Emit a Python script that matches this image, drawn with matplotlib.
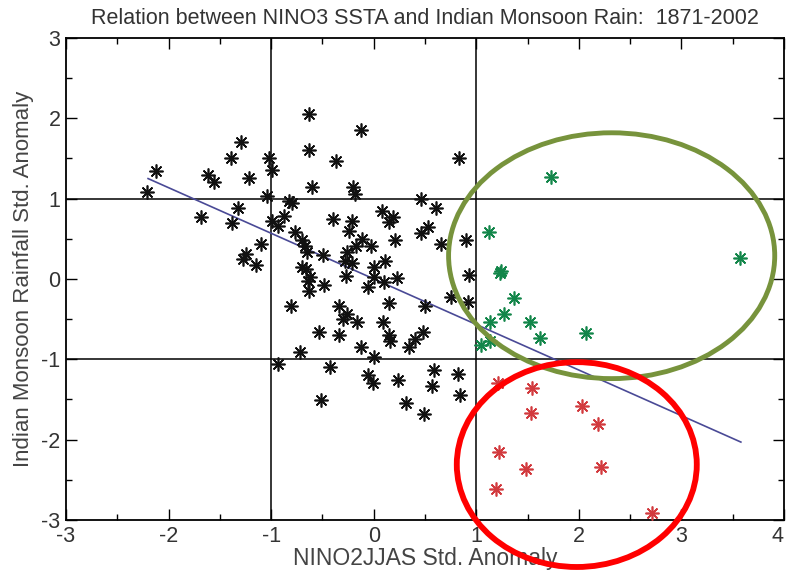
import matplotlib
matplotlib.use("Agg")
import matplotlib.pyplot as plt
from matplotlib.patches import Ellipse
from matplotlib.ticker import MultipleLocator

plt.rcParams['font.family'] = ['Liberation Sans', 'DejaVu Sans']
plt.rcParams['axes.unicode_minus'] = False

# standardized anomalies, one point per year
black_x = [-2.21, -2.12, -1.68, -1.62, -1.56, -1.39, -1.38, -1.32, -1.29, -1.27,
           -1.25, -1.22, -1.15, -1.10, -1.04, -1.02, -0.99, -0.99, -0.93, -0.87,
           -0.83, -0.80, -0.77, -0.70, -0.67, -0.65, -0.70, -0.66, -0.62, -0.64,
           -0.63, -0.63, -0.63, -0.60, -0.49, -0.48, -0.40, -0.37, -0.28, -0.27,
           -0.26, -0.24, -0.21, -0.20, -0.18, -0.17, -0.12, -0.11, -0.06, -0.03,
           0.00, 0.00, 0.08, 0.10, 0.11, 0.15, 0.19, 0.21, 0.23, 0.46,
           0.46, 0.53, 0.61, 0.66, 0.83, 0.90, 0.93, 0.15, 0.50, 0.75,
           0.92, -0.81, -0.34, -0.30, -0.26, -0.16, 0.09, -0.53, -0.34, 0.15,
           0.16, 0.48, 0.40, 0.34, -0.12, 0.00, -0.72, -0.93, -0.43, -0.06,
           -0.01, 0.24, 0.59, 0.82, 0.57, 0.84, 0.31, 0.49, -0.51, -0.21]
black_y = [1.08, 1.35, 0.77, 1.30, 1.21, 1.50, 0.70, 0.88, 1.71, 0.25,
           0.31, 1.26, 0.17, 0.44, 1.03, 1.51, 1.36, 0.72, 0.66, 0.79,
           0.97, 0.95, 0.58, 0.48, 0.41, 0.33, 0.15, 0.12, 0.02, -0.03,
           -0.15, 2.05, 1.60, 1.14, 0.30, -0.08, 0.75, 1.47, 0.22, 0.04,
           0.33, 0.60, 0.72, 1.15, 1.06, 0.41, 1.85, 0.50, -0.10, 0.41,
           0.15, 0.02, 0.85, -0.04, 0.23, 0.71, 0.77, 0.48, 0.01, 1.00,
           0.57, 0.65, 0.88, 0.43, 1.51, 0.48, 0.05, -0.30, -0.33, -0.22,
           -0.29, -0.34, -0.34, -0.50, -0.44, -0.53, -0.54, -0.66, -0.70, -0.70,
           -0.77, -0.66, -0.75, -0.85, -0.85, -0.97, -0.91, -1.06, -1.09, -1.20,
           -1.30, -1.26, -1.13, -1.18, -1.33, -1.44, -1.54, -1.68, -1.51, 0.20]

# warm years with near-normal rain
green_x = [1.73, 1.12, 1.24, 1.23, 3.57, 1.37, 1.27, 1.13, 1.52, 1.62, 2.07, 1.13, 1.05]
green_y = [1.27, 0.59, 0.10, 0.08, 0.26, -0.24, -0.44, -0.54, -0.53, -0.73, -0.67, -0.77, -0.82]

# warm years with drought
red_x = [1.21, 1.54, 1.53, 2.03, 2.19, 1.22, 1.48, 2.22, 1.19, 2.71]
red_y = [-1.30, -1.36, -1.67, -1.58, -1.81, -2.15, -2.36, -2.34, -2.62, -2.91]

# least squares line end points
fit_x = [-2.20, 3.58]
fit_y = [1.25, -2.03]

fig = plt.figure(figsize=(7.86, 5.73), dpi=100)
ax = fig.add_axes([0.0840, 0.0925, 0.9134, 0.8412])

ax.set_xlim(-3, 4)
ax.set_ylim(-3, 3)

for v in (-1, 1):
    ax.axvline(v, color='black', lw=1.1, zorder=1)
    ax.axhline(v, color='black', lw=1.1, zorder=1)

ax.plot(fit_x, fit_y, color='#4a4a96', lw=1.2, zorder=2)

star = (8, 2, 0)
ax.plot(black_x, black_y, linestyle='none', marker=star, ms=10, mew=1.2,
        color='#111111', zorder=3)
ax.plot(green_x, green_y, linestyle='none', marker=star, ms=10, mew=1.2,
        color='#13864a', zorder=3)
ax.plot(red_x, red_y, linestyle='none', marker=star, ms=10, mew=1.2,
        color='#d23a3e', zorder=3)

ax.add_patch(Ellipse((2.32, 0.29), 3.18, 3.06, fill=False, ec='#77933c',
                     lw=3.5, zorder=4, clip_on=False))
ax.add_patch(Ellipse((1.98, -2.31), 2.34, 2.55, fill=False, ec='#ff0000',
                     lw=4.2, zorder=4, clip_on=False))

ax.xaxis.set_major_locator(MultipleLocator(1))
ax.xaxis.set_minor_locator(MultipleLocator(0.5))
ax.yaxis.set_major_locator(MultipleLocator(1))
ax.yaxis.set_minor_locator(MultipleLocator(0.5))
ax.tick_params(which='both', direction='in', top=True, right=True,
               labelsize=15.5, labelcolor='#333333', width=1.0)
ax.tick_params(which='major', length=8, pad=4)
ax.tick_params(which='minor', length=4)
for s in ax.spines.values():
    s.set_linewidth(1.3)

ax.set_title('Relation between NINO3 SSTA and Indian Monsoon Rain:  1871-2002',
             fontsize=15.5, color='#333333', pad=10)
ax.set_xlabel('NINO2JJAS Std. Anomaly', fontsize=16.5, color='#444444', labelpad=0)
ax.set_ylabel('Indian Monsoon Rainfall Std. Anomaly', fontsize=16,
              color='#444444', labelpad=5)

# keep the last x label inside the figure
fig.canvas.draw()
for tick in ax.xaxis.get_major_ticks():
    if abs(tick.get_loc() - 4) < 1e-9:
        tick.label1.set_horizontalalignment('right')

fig.savefig('out.png', dpi=100)
